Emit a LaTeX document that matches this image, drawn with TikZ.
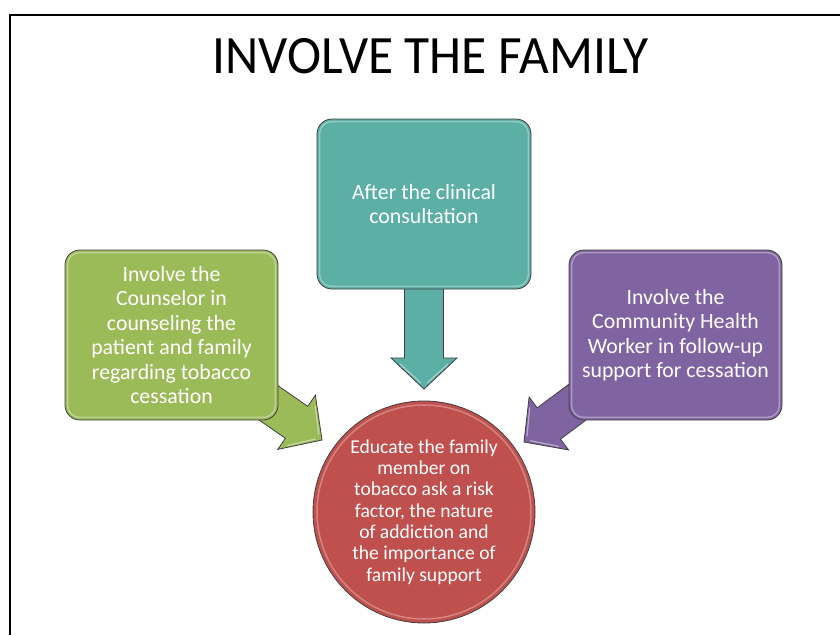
\documentclass[tikz,border=0pt]{standalone}
\usepackage{fontspec}
\setmainfont{Carlito}
\definecolor{edgecol}{HTML}{404040}
\definecolor{boxgreen}{HTML}{9BBB59}
\definecolor{boxteal}{HTML}{5BAFA4}
\definecolor{boxpurple}{HTML}{8064A2}
\definecolor{boxred}{HTML}{C0504D}
\newcommand\blockarrow[5]{%
  \begin{scope}[shift={(#1,#2)},rotate=#3]
    \filldraw[fill=#5, draw=edgecol, line width=0.8pt]
      (0,0) -- (-31,33) -- (-31,19.5) -- (-#4,19.5) -- (-#4,-19.5)
      -- (-31,-19.5) -- (-31,-33) -- cycle;
    \draw[white, opacity=.45, line width=1.2pt, line cap=round]
      (-6,-3) -- (-25,-24);
    \draw[white, opacity=.45, line width=1.2pt, line cap=round]
      (-6,3) -- (-25,24);
  \end{scope}}
\tikzset{
  box/.style={draw=edgecol, line width=0.8pt, rounded corners=15pt,
    minimum width=213pt, minimum height=170pt, inner sep=0pt,
    text=white, align=center, font=\fontsize{21.8}{24.5}\selectfont},
  gloss/.style={white, opacity=.35, line width=1.5pt, rounded corners=12pt},
  ball/.style={circle, draw=edgecol, line width=0.8pt, fill=boxred,
    minimum size=222pt, inner sep=0pt, text=white, align=center,
    font=\fontsize{19.6}{21.3}\selectfont},
  titlestyle/.style={font=\fontsize{54}{60}\selectfont, text=black, inner sep=0pt, xscale=0.952}
}
\begin{document}
\begin{tikzpicture}[x=1pt,y=-1pt]
\useasboundingbox (0,0) rectangle (840,635);
\fill[white] (0,0) rectangle (840,635);
\draw[line width=2.5pt] (840,15) -- (10,15) -- (10,635);

\node[titlestyle, anchor=base] (title) at (430.5,73) {INVOLVE THE FAMILY};

% block arrows (behind the boxes)
\blockarrow{322}{440}{-34.8}{100}{boxgreen}
\blockarrow{424}{389}{-90}{110}{boxteal}
\blockarrow{524}{442}{-143.3}{100}{boxpurple}

% boxes
\node[box, fill=boxgreen] (couns) at (171.5,335)
  {Involve the\\Counselor in\\counseling the\\patient and family\\regarding tobacco\\cessation};
\draw[gloss] ([shift={(3,3)}]couns.north west) rectangle ([shift={(-3,-3)}]couns.south east);

\node[box, fill=boxteal, minimum width=214pt] (after) at (424,204)
  {After the clinical\\consultation};
\draw[gloss] ([shift={(3,3)}]after.north west) rectangle ([shift={(-3,-3)}]after.south east);

\node[box, fill=boxpurple] (chw) at (675.5,335)
  {Involve the\\Community Health\\Worker in follow-up\\support for cessation};
\draw[gloss] ([shift={(3,3)}]chw.north west) rectangle ([shift={(-3,-3)}]chw.south east);

% central circle
\node[ball] (edu) at (424,512)
  {Educate the family\\member on\\tobacco ask a risk\\factor, the nature\\of addiction and\\the importance of\\family support};
\draw[white, opacity=.3, line width=1.5pt] (edu.center) circle (107);
\end{tikzpicture}
\end{document}
